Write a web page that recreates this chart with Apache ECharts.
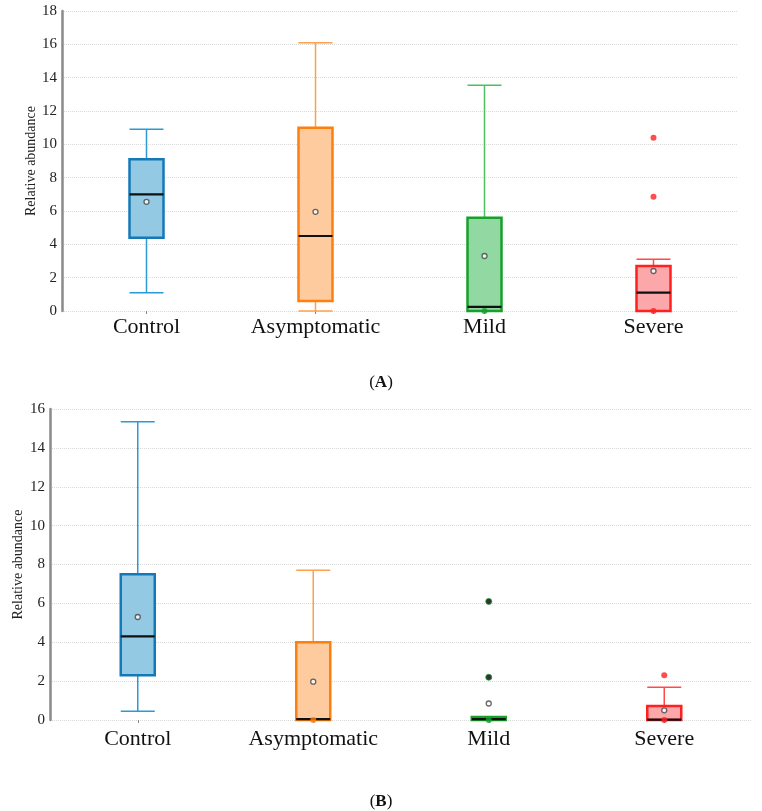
<!DOCTYPE html>
<html>
<head>
<meta charset="utf-8">
<script src="https://cdn.jsdelivr.net/npm/echarts@6/dist/echarts.min.js"></script>
<style>
  html, body { margin: 0; padding: 0; background: #fff; }
  #chart { width: 762px; height: 811px; }
</style>
</head>
<body>
<div id="chart"></div>
<script>
const categories = ['Control', 'Asymptomatic', 'Mild', 'Severe']

// [min, Q1, median, Q3, max]
const boxA = [
  [1.1, 4.4, 7.0, 9.1, 10.9],
  [0, 0.6, 4.5, 11.0, 16.1],
  [0, 0, 0.25, 5.6, 13.55],
  [0, 0, 1.1, 2.7, 3.1]
]
const meanA = [6.55, 5.95, 3.3, 2.4]
const outliersA = [[2, 0], [3, 0], [3, 6.85], [3, 10.4]]

const boxB = [
  [0.45, 2.3, 4.3, 7.5, 15.35],
  [0, 0, 0.05, 4.0, 7.7],
  [0, 0, 0.05, 0.15, 0.15],
  [0, 0, 0.02, 0.72, 1.68]
]
const meanB = [5.3, 1.97, 0.85, 0.5]
const outliersB = [[1, 0], [2, 0], [2, 2.2], [2, 6.1], [3, 0], [3, 2.3]]

const yTicksA = { min: 0, max: 18, interval: 2 }
const yTicksB = { min: 0, max: 16, interval: 2 }

const palette = [
  { stroke: '#1479b8', fill: '#94c9e3', whisker: '#2b9ad4' },
  { stroke: '#ff7f0e', fill: '#fdcb9e', whisker: '#ffa04a' },
  { stroke: '#17a02a', fill: '#91d8a3', whisker: '#4cbf62' },
  { stroke: '#ff2020', fill: '#fca7a9', whisker: '#ff4a4a' }
]

const serif = 'Liberation Serif'

function renderBox(params, api) {
  const i = api.value(0)
  const x = api.coord([i, 0])[0]
  const yMin = api.coord([i, api.value(1)])[1]
  const yQ1 = api.coord([i, api.value(2)])[1]
  const yMed = api.coord([i, api.value(3)])[1]
  const yQ3 = api.coord([i, api.value(4)])[1]
  const yMax = api.coord([i, api.value(5)])[1]
  const half = 17
  const c = palette[i]
  const wStyle = { stroke: c.whisker, lineWidth: 1.5 }
  return {
    type: 'group',
    children: [
      { type: 'line', shape: { x1: x, y1: yMax, x2: x, y2: yQ3 }, style: wStyle },
      { type: 'line', shape: { x1: x, y1: yQ1, x2: x, y2: yMin }, style: wStyle },
      { type: 'line', shape: { x1: x - half, y1: yMax, x2: x + half, y2: yMax }, style: wStyle },
      { type: 'line', shape: { x1: x - half, y1: yMin, x2: x + half, y2: yMin }, style: wStyle },
      {
        type: 'rect',
        shape: { x: x - half, y: yQ3, width: half * 2, height: Math.max(yQ1 - yQ3, 1) },
        style: { fill: c.fill, stroke: c.stroke, lineWidth: 2.5 }
      },
      { type: 'line', shape: { x1: x - half, y1: yMed, x2: x + half, y2: yMed }, style: { stroke: '#111', lineWidth: 2.2 } }
    ]
  }
}

function boxData(boxes) {
  return boxes.map((b, i) => [i, ...b])
}

function outlierData(list, chart) {
  return list.map(([i, v]) => {
    const dark = chart === 'B' && i === 2 && v > 0
    return {
      value: [i, v],
      itemStyle: {
        color: dark ? '#000' : palette[i].stroke,
        borderColor: palette[i].stroke,
        borderWidth: dark ? 1 : 0
      }
    }
  })
}

function meanData(means) {
  return means.map((v, i) => [i, v])
}

function xAxisOf(gridIndex, margin) {
  return {
    type: 'category',
    gridIndex,
    data: categories,
    boundaryGap: true,
    axisLine: { show: false },
    axisTick: { show: true, alignWithLabel: true, length: 3, lineStyle: { color: '#888' } },
    axisLabel: { fontFamily: serif, fontSize: 22, color: '#111', margin }
  }
}

function yAxisOf(gridIndex, ticks, nameGap) {
  return {
    type: 'value',
    gridIndex,
    ...ticks,
    name: 'Relative abundance',
    nameLocation: 'middle',
    nameGap,
    nameMoveOverlap: false,
    nameTextStyle: { fontFamily: serif, fontSize: 14, color: '#222' },
    axisLine: { show: true, lineStyle: { color: '#8a8a8a', width: 2.5 } },
    axisTick: { show: false },
    axisLabel: { fontFamily: serif, fontSize: 15, color: '#222', margin: 5 },
    splitLine: { show: true, lineStyle: { color: '#d9d9d9', type: 'dotted', width: 1 } }
  }
}

const captionRich = {
  n: { fontFamily: serif, fontSize: 17, fontWeight: 'normal', color: '#111' },
  b: { fontFamily: serif, fontSize: 17, fontWeight: 'bold', color: '#111' }
}

const chart = echarts.init(document.getElementById('chart'))
chart.setOption({
  animation: false,
  title: [
    { text: '{n|(}{b|A}{n|)}', left: 'center', top: 369, textStyle: { rich: captionRich } },
    { text: '{n|(}{b|B}{n|)}', left: 'center', top: 788, textStyle: { rich: captionRich } }
  ],
  grid: [
    { left: 62, right: 24, top: 11, height: 300 },
    { left: 50, right: 10, top: 409, height: 311 }
  ],
  xAxis: [xAxisOf(0, 5), xAxisOf(1, 8)],
  yAxis: [yAxisOf(0, yTicksA, 24), yAxisOf(1, yTicksB, 25)],
  series: [
    {
      type: 'custom',
      xAxisIndex: 0, yAxisIndex: 0,
      renderItem: renderBox,
      encode: { x: 0, y: [1, 2, 3, 4, 5] },
      data: boxData(boxA)
    },
    {
      type: 'custom',
      xAxisIndex: 1, yAxisIndex: 1,
      renderItem: renderBox,
      encode: { x: 0, y: [1, 2, 3, 4, 5] },
      data: boxData(boxB)
    },
    {
      type: 'scatter', xAxisIndex: 0, yAxisIndex: 0, z: 5,
      symbolSize: 6,
      data: outlierData(outliersA, 'A')
    },
    {
      type: 'scatter', xAxisIndex: 1, yAxisIndex: 1, z: 5,
      symbolSize: 6,
      data: outlierData(outliersB, 'B')
    },
    {
      type: 'scatter', xAxisIndex: 0, yAxisIndex: 0, z: 6,
      symbol: 'circle', symbolSize: 5,
      itemStyle: { color: '#fff', borderColor: '#444', borderWidth: 1.3 },
      data: meanData(meanA)
    },
    {
      type: 'scatter', xAxisIndex: 1, yAxisIndex: 1, z: 6,
      symbol: 'circle', symbolSize: 5,
      itemStyle: { color: '#fff', borderColor: '#444', borderWidth: 1.3 },
      data: meanData(meanB)
    }
  ]
})
</script>
</body>
</html>
